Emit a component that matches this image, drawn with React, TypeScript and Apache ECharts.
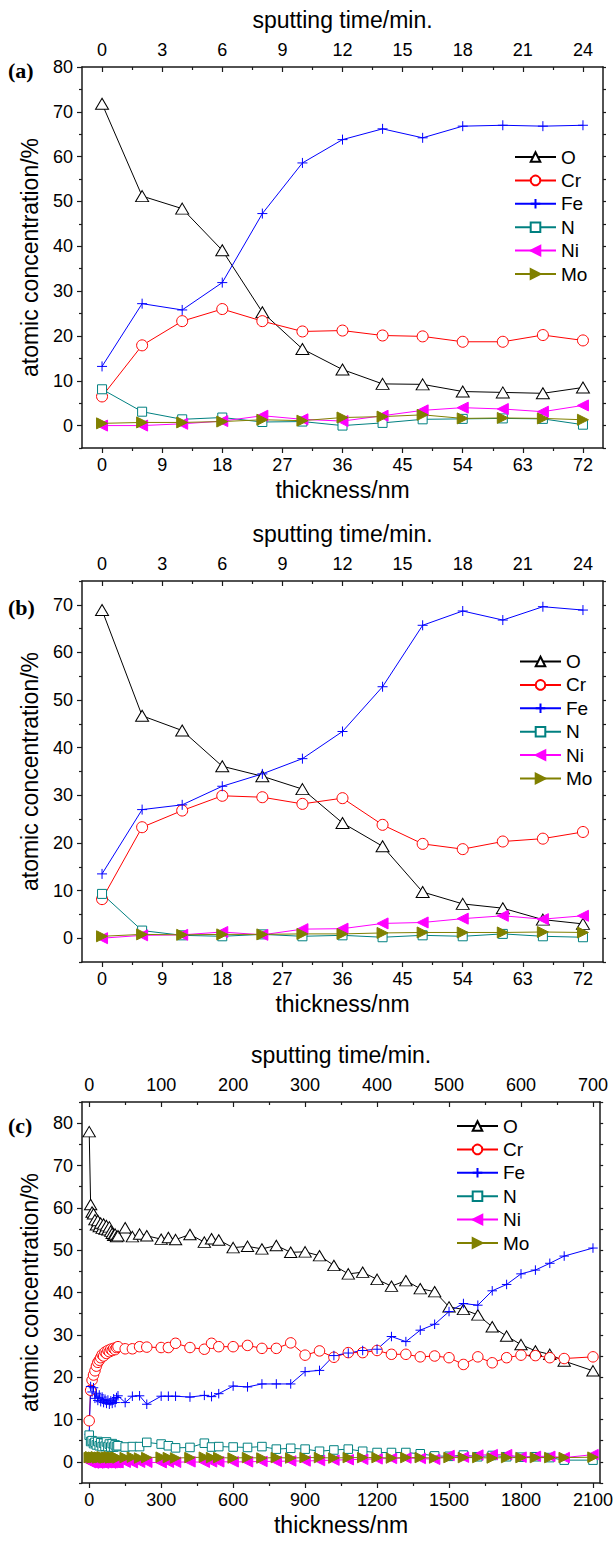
import React, { useEffect, useRef } from "react";
import * as echarts from "echarts";

const FONT = "'Liberation Sans', Arial, Helvetica, sans-serif";

// ---------- panel (a) ----------
const thicknessA = [0, 6, 12, 18, 24, 30, 36, 42, 48, 54, 60, 66, 72];
const O_a = [71.8, 51.2, 48.4, 39.1, 25.3, 17.1, 12.5, 9.3, 9.2, 7.6, 7.4, 7.2, 8.5];
const Cr_a = [6.5, 17.9, 23.3, 26.0, 23.3, 21.0, 21.2, 20.1, 19.9, 18.7, 18.7, 20.2, 19.0];
const Fe_a = [13.2, 27.2, 25.8, 31.9, 47.3, 58.6, 63.8, 66.2, 64.2, 66.8, 67.0, 66.8, 67.0];
const N_a = [8.1, 3.1, 1.4, 1.8, 0.8, 0.9, 0.0, 0.6, 1.4, 1.5, 1.6, 1.5, 0.2];
const Ni_a = [0.0, 0.0, 0.4, 1.0, 2.2, 1.4, 1.0, 2.2, 3.4, 4.0, 3.7, 3.1, 4.5];
const Mo_a = [0.5, 0.7, 0.7, 0.9, 1.3, 1.1, 1.8, 2.0, 2.4, 1.6, 1.7, 1.6, 1.3];

// ---------- panel (b) ----------
const thicknessB = [0, 6, 12, 18, 24, 30, 36, 42, 48, 54, 60, 66, 72];
const O_b = [68.9, 46.7, 43.6, 36.1, 34.0, 31.3, 24.2, 19.3, 9.7, 7.2, 6.3, 3.9, 3.0];
const Cr_b = [8.2, 23.3, 26.8, 29.9, 29.6, 28.2, 29.4, 23.8, 19.8, 18.7, 20.3, 20.9, 22.3];
const Fe_b = [13.5, 27.0, 28.0, 31.9, 34.5, 37.7, 43.4, 52.8, 65.7, 68.7, 66.8, 69.6, 68.9];
const N_b = [9.3, 1.6, 0.6, 0.4, 0.8, 0.4, 0.6, 0.2, 0.6, 0.4, 0.9, 0.4, 0.2];
const Ni_b = [0.0, 0.6, 0.7, 1.3, 0.7, 1.9, 2.0, 3.1, 3.3, 4.1, 4.7, 4.0, 4.7];
const Mo_b = [0.4, 0.8, 0.7, 0.8, 0.8, 0.9, 0.9, 1.1, 1.2, 1.2, 1.2, 1.3, 1.2];

// ---------- panel (c) ----------
const thicknessC = [
  0, 6, 12, 18, 24, 30, 36, 42, 48, 54, 60, 66, 72, 78, 84, 90, 96, 102, 108, 114, 120,
  150, 180, 210, 240, 300, 330, 360, 420, 480, 510, 540, 600,
  660, 720, 780, 840, 900, 960, 1020, 1080, 1140, 1200, 1260, 1320, 1380, 1440, 1500,
  1560, 1620, 1680, 1740, 1800, 1860, 1920, 1980, 2100,
];
const O_c = [
  78.0, 60.8, 59.0, 58.6, 57.2, 56.0, 57.0, 55.6, 56.4, 55.2, 56.2, 55.0, 55.8, 54.8, 55.5, 54.5, 54.0, 53.5, 53.8, 53.2, 53.4,
  55.3, 53.2, 53.8, 53.4, 52.6, 53.0, 52.5, 53.7, 51.9, 52.7, 52.4, 50.6,
  50.9, 50.3, 51.1, 49.5, 49.6, 48.7, 46.4, 44.4, 44.8, 43.1, 41.5, 42.8, 40.9, 40.2, 36.6,
  36.0, 34.7, 31.9, 29.7, 27.7, 26.2, 25.4, 23.8, 21.5,
];
const Cr_c = [
  9.7, 16.9, 19.3, 20.5, 21.5, 22.6, 23.5, 24.0, 24.6, 25.3, 25.0, 25.9, 25.6, 26.3, 26.0, 26.6, 26.3, 26.8, 26.5, 27.0, 27.2,
  26.7, 26.7, 27.2, 27.1, 27.0, 27.0, 28.0, 27.0, 26.6, 28.0, 27.2, 27.2,
  27.5, 26.8, 26.8, 28.1, 25.2, 26.2, 24.7, 25.8, 25.8, 26.3, 25.4, 25.4, 24.8, 25.0, 24.6,
  23.0, 24.8, 23.4, 24.6, 25.2, 25.1, 24.6, 24.4, 24.8,
];
const Fe_c = [
  6.5, 17.8, 16.5, 17.5, 15.0, 16.2, 14.5, 15.8, 14.2, 15.3, 14.0, 14.8, 13.8, 14.6, 13.6, 14.4, 13.8, 14.9, 14.0, 15.2, 15.6,
  14.0, 15.5, 15.6, 13.6, 15.5, 15.5, 15.5, 15.3, 15.7, 15.4, 16.1, 17.9,
  17.7, 18.4, 18.4, 18.4, 21.3, 21.6, 25.1, 25.7, 26.3, 26.6, 29.6, 28.4, 31.1, 32.5, 35.5,
  37.4, 37.0, 40.4, 41.9, 44.4, 45.3, 46.9, 48.6, 50.5,
];
const N_c = [
  6.3, 4.8, 5.0, 4.3, 4.6, 4.0, 4.8, 3.8, 4.5, 3.6, 4.4, 3.7, 4.7, 3.6, 4.2, 3.5, 4.3, 3.5, 4.0, 3.6, 3.8,
  3.5, 3.6, 3.6, 4.6, 4.2, 3.8, 3.3, 3.4, 4.4, 3.5, 3.6, 3.5,
  3.4, 3.6, 3.0, 3.2, 3.0, 2.5, 2.8, 3.0, 2.5, 2.2, 2.2, 2.2, 1.9, 1.4, 1.3,
  1.6, 1.2, 1.5, 1.2, 1.1, 1.2, 1.0, 0.4, 0.4,
];
const Ni_c = [
  0.0, -0.2, -0.1, -0.3, -0.2, -0.1, -0.3, -0.2, -0.1, -0.2, -0.3, -0.1, -0.2, -0.2, -0.1, -0.3, -0.2, -0.1, -0.2, -0.1, -0.2,
  -0.1, -0.2, -0.1, -0.1, -0.2, -0.1, -0.1, 0.0, -0.1, 0.0, 0.0, 0.0,
  0.0, 0.1, 0.1, 0.2, 0.2, 0.3, 0.4, 0.5, 0.6, 0.7, 0.8, 0.9, 0.8, 0.6, 1.5,
  1.1, 1.6, 1.7, 1.7, 1.1, 1.3, 1.3, 1.0, 1.7,
];
const Mo_c = [
  1.0, 1.2, 0.9, 1.1, 1.0, 1.2, 0.9, 1.1, 1.0, 1.2, 1.0, 0.9, 1.1, 1.0, 1.2, 0.9, 1.1, 1.0, 1.0, 1.1, 0.9,
  1.0, 1.1, 0.9, 1.0, 1.1, 1.0, 0.9, 1.0, 1.1, 1.0, 1.0, 0.9,
  1.0, 0.9, 1.0, 0.9, 1.0, 1.0, 0.9, 1.0, 1.0, 1.0, 0.9, 1.0, 1.0, 0.9, 1.0,
  1.0, 1.0, 0.9, 1.0, 1.0, 1.0, 1.0, 1.0, 1.1,
];

// ---------- tick labels ----------
const thickMajorAB = [0, 9, 18, 27, 36, 45, 54, 63, 72];
const thickMinorAB = [4.5, 13.5, 22.5, 31.5, 40.5, 49.5, 58.5, 67.5];
const timeMajorAB = [0, 3, 6, 9, 12, 15, 18, 21, 24];
const timeMinorAB = [1.5, 4.5, 7.5, 10.5, 13.5, 16.5, 19.5, 22.5];
const thickMajorC = [0, 300, 600, 900, 1200, 1500, 1800, 2100];
const thickMinorC = [150, 450, 750, 1050, 1350, 1650, 1950];
const timeMajorC = [0, 100, 200, 300, 400, 500, 600, 700];
const timeMinorC = [50, 150, 250, 350, 450, 550, 650];
const yMajorA = [0, 10, 20, 30, 40, 50, 60, 70, 80];
const yMinorA = [-5, 5, 15, 25, 35, 45, 55, 65, 75];
const yMajorB = [0, 10, 20, 30, 40, 50, 60, 70];
const yMinorB = [-5, 5, 15, 25, 35, 45, 55, 65, 75];
const yMajorC = [0, 10, 20, 30, 40, 50, 60, 70, 80];
const yMinorC = [-5, 5, 15, 25, 35, 45, 55, 65, 75, 85];

const ELEMENTS = ["O", "Cr", "Fe", "N", "Ni", "Mo"];

const STYLES: Record<string, any> = {
  O: { symbol: "triangle", size: [13, 11], line: "#000000", fill: "#ffffff", border: "#000000" },
  Cr: { symbol: "circle", size: [11, 11], line: "#ff0000", fill: "#ffffff", border: "#ff0000" },
  Fe: { symbol: "path://M0,5L10,5M5,0L5,10", size: [10, 10], line: "#0000ff", fill: "#0000ff", border: "#0000ff" },
  N: { symbol: "rect", size: [9, 9], line: "#008080", fill: "#ffffff", border: "#008080" },
  Ni: { symbol: "path://M0,5L10,0L10,10Z", size: [11, 11], line: "#ff00ff", fill: "#ff00ff", border: "#ff00ff" },
  Mo: { symbol: "path://M0,0L10,5L0,10Z", size: [11, 11], line: "#808000", fill: "#808000", border: "#808000" },
};

const panels = [
  {
    label: "(a)", labelTop: 59, top: 67, x: thicknessA,
    values: [O_a, Cr_a, Fe_a, N_a, Ni_a, Mo_a],
    yMin: -5, yMax: 80, yMajor: yMajorA, yMinor: yMinorA,
    xMin: -3, xMax: 75, xMajor: thickMajorAB, xMinor: thickMinorAB,
    tMin: -1, tMax: 25, tMajor: timeMajorAB, tMinor: timeMinorAB,
    legendLeft: 514, legendTop: 147.5, scale: 1,
  },
  {
    label: "(b)", labelTop: 596, top: 581, x: thicknessB,
    values: [O_b, Cr_b, Fe_b, N_b, Ni_b, Mo_b],
    yMin: -5, yMax: 75, yMajor: yMajorB, yMinor: yMinorB,
    xMin: -3, xMax: 75, xMajor: thickMajorAB, xMinor: thickMinorAB,
    tMin: -1, tMax: 25, tMajor: timeMajorAB, tMinor: timeMinorAB,
    legendLeft: 519, legendTop: 652, scale: 1,
  },
  {
    label: "(c)", labelTop: 1114, top: 1102, x: thicknessC,
    values: [O_c, Cr_c, Fe_c, N_c, Ni_c, Mo_c],
    yMin: -5, yMax: 85, yMajor: yMajorC, yMinor: yMinorC,
    xMin: -30, xMax: 2130, xMajor: thickMajorC, xMinor: thickMinorC,
    tMin: -10, tMax: 710, tMajor: timeMajorC, tMinor: timeMinorC,
    legendLeft: 456, legendTop: 1116.5, scale: 0.95,
  },
];

const GRID_LEFT = 82;
const GRID_WIDTH = 521;
const GRID_HEIGHT = 381;
const AXIS_LINE = { show: true, onZero: false, lineStyle: { color: "#1a1a1a", width: 1.5 } };
const LABEL = { fontSize: 18, color: "#000", fontFamily: FONT, formatter: (v: number) => String(v) };
const NAME = { fontSize: 23, color: "#000", fontFamily: FONT };
const TICK_LINE = { color: "#1a1a1a", width: 1.2 };

function buildOption() {
  const grid: any[] = [];
  const xAxis: any[] = [];
  const yAxis: any[] = [];
  const series: any[] = [];
  const legend: any[] = [];
  const graphic: any[] = [];

  panels.forEach((p, gi) => {
    grid.push({ left: GRID_LEFT, width: GRID_WIDTH, top: p.top, height: GRID_HEIGHT, containLabel: false });
    const hideSplit = { show: false };
    xAxis.push({
      type: "value", gridIndex: gi, position: "bottom", min: p.xMin, max: p.xMax,
      name: "thickness/nm", nameLocation: "middle", nameGap: 30, nameTextStyle: NAME,
      axisLine: AXIS_LINE, splitLine: hideSplit,
      axisTick: { show: true, customValues: p.xMajor, length: 5, lineStyle: TICK_LINE },
      axisLabel: { show: true, customValues: p.xMajor, margin: 8, ...LABEL },
    });
    xAxis.push({
      type: "value", gridIndex: gi, position: "bottom", min: p.xMin, max: p.xMax,
      axisLine: { show: false, onZero: false }, splitLine: hideSplit,
      axisTick: { show: true, customValues: p.xMinor, length: 3, lineStyle: TICK_LINE },
      axisLabel: { show: false },
    });
    xAxis.push({
      type: "value", gridIndex: gi, position: "top", min: p.tMin, max: p.tMax,
      name: "sputting time/min.", nameLocation: "middle", nameGap: 36, nameTextStyle: NAME,
      axisLine: AXIS_LINE, splitLine: hideSplit,
      axisTick: { show: true, inside: true, customValues: p.tMajor, length: 5, lineStyle: TICK_LINE },
      axisLabel: { show: true, customValues: p.tMajor, margin: 8, ...LABEL },
    });
    xAxis.push({
      type: "value", gridIndex: gi, position: "top", min: p.tMin, max: p.tMax,
      axisLine: { show: false, onZero: false }, splitLine: hideSplit,
      axisTick: { show: true, inside: true, customValues: p.tMinor, length: 3, lineStyle: TICK_LINE },
      axisLabel: { show: false },
    });
    yAxis.push({
      type: "value", gridIndex: gi, position: "left", min: p.yMin, max: p.yMax,
      name: "atomic concentration/%", nameLocation: "middle", nameGap: 41, nameTextStyle: NAME,
      axisLine: AXIS_LINE, splitLine: hideSplit,
      axisTick: { show: true, customValues: p.yMajor, length: 5, lineStyle: TICK_LINE },
      axisLabel: { show: true, customValues: p.yMajor, margin: 9, ...LABEL },
    });
    yAxis.push({
      type: "value", gridIndex: gi, position: "left", min: p.yMin, max: p.yMax,
      axisLine: { show: false, onZero: false }, splitLine: hideSplit,
      axisTick: { show: true, customValues: p.yMinor, length: 3, lineStyle: TICK_LINE },
      axisLabel: { show: false },
    });
    yAxis.push({
      type: "value", gridIndex: gi, position: "right", min: p.yMin, max: p.yMax,
      axisLine: AXIS_LINE, splitLine: hideSplit,
      axisTick: { show: true, customValues: [...p.yMajor, ...p.yMinor], length: 3, lineStyle: TICK_LINE },
      axisLabel: { show: false },
    });

    ELEMENTS.forEach((el, si) => {
      const st = STYLES[el];
      const vals = p.values[si];
      series.push({
        type: "line", name: el, xAxisIndex: gi * 4, yAxisIndex: gi * 3,
        data: p.x.map((xv, i) => [xv, vals[i]]),
        symbol: st.symbol,
        symbolSize: [st.size[0] * p.scale, st.size[1] * p.scale],
        showSymbol: true, showAllSymbol: true, silent: true,
        lineStyle: { color: st.line, width: 1 },
        itemStyle: { color: st.fill, borderColor: st.border, borderWidth: 1 },
        emphasis: { disabled: true },
      });
    });

    legend.push({
      orient: "vertical", left: p.legendLeft, top: p.legendTop, padding: 0,
      itemWidth: 41, itemHeight: 12, itemGap: 4.4, selectedMode: false,
      textStyle: { fontSize: 19, color: "#000", fontFamily: FONT, lineHeight: 19 },
      data: ELEMENTS,
    });

    graphic.push({
      type: "text", left: 8, top: p.labelTop,
      style: { text: p.label, fontSize: 22, fontWeight: "bold", fontFamily: "'Liberation Serif', 'Times New Roman', serif", fill: "#000" },
    });
  });

  return { animation: false, backgroundColor: "#ffffff", grid, xAxis, yAxis, series, legend, graphic };
}

export default function App() {
  const ref = useRef<HTMLDivElement>(null);
  useEffect(() => {
    if (!ref.current) return;
    const chart = echarts.init(ref.current, undefined, { renderer: "svg" });
    chart.setOption(buildOption() as any);
    return () => chart.dispose();
  }, []);
  return (
    <div
      ref={ref}
      style={{ position: "absolute", left: 0, top: 0, width: 616, height: 1541, background: "#fff" }}
    />
  );
}
